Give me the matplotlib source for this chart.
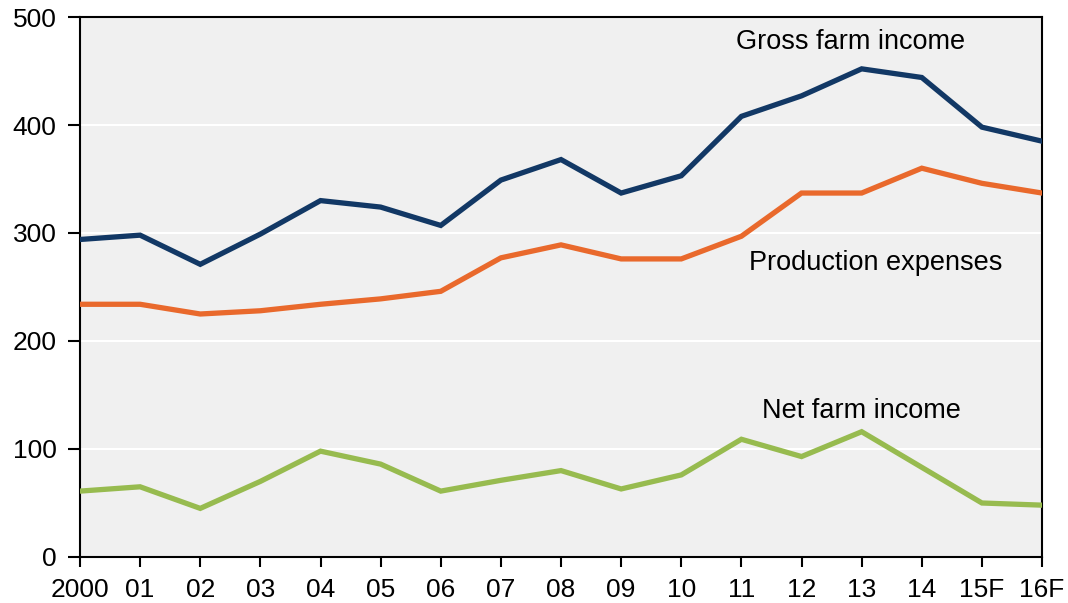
import numpy as np
import matplotlib
matplotlib.use("Agg")
import matplotlib.pyplot as plt

plt.rcParams["font.family"] = ["Liberation Sans", "DejaVu Sans"]

NAVY, ORANGE, GREEN = "#123865", "#e9692c", "#97bb4f"

years = ["2000", "01", "02", "03", "04", "05", "06", "07", "08",
         "09", "10", "11", "12", "13", "14", "15F", "16F"]
gross = [294, 298, 271, 299, 330, 324, 307, 349, 368, 337, 353,
         408, 427, 452, 444, 398, 385]
expenses = [234, 234, 225, 228, 234, 239, 246, 277, 289, 276, 276,
            297, 337, 337, 360, 346, 337]
net = [61, 65, 45, 70, 98, 86, 61, 71, 80, 63, 76,
       109, 93, 116, 83, 50, 48]

fig = plt.figure(figsize=(10.68, 6.03), dpi=100)
ax = fig.add_axes([0.0749, 0.0763, 0.9008, 0.8955])
ax.set_facecolor("#f0f0f0")

x = np.arange(len(years))
ax.plot(x, gross, color=NAVY, linewidth=3.8, solid_joinstyle="miter", zorder=3)
ax.plot(x, expenses, color=ORANGE, linewidth=3.8, solid_joinstyle="miter", zorder=3)
ax.plot(x, net, color=GREEN, linewidth=3.8, solid_joinstyle="miter", zorder=3)

ax.text(12.82, 477, "Gross farm income", fontsize=19.5, ha="center", va="center")
ax.text(13.24, 272, "Production expenses", fontsize=19.5, ha="center", va="center")
ax.text(13.0, 135, "Net farm income", fontsize=19.5, ha="center", va="center")

ax.set_xlim(0, len(years) - 1)
ax.set_ylim(0, 500)
ax.set_xticks(x)
ax.set_xticklabels(years)
ax.set_yticks(np.arange(0, 501, 100))
ax.tick_params(axis="x", direction="out", length=7, width=1.5, labelsize=19, pad=8)
ax.tick_params(axis="y", direction="out", length=9, width=1.5, labelsize=19, pad=8)
ax.grid(True, axis="y", color="white", linewidth=1.5, zorder=0)
ax.set_axisbelow(True)
for s in ax.spines.values():
    s.set_linewidth(1.5)
    s.set_color("black")

fig.savefig("out.png", dpi=100)
